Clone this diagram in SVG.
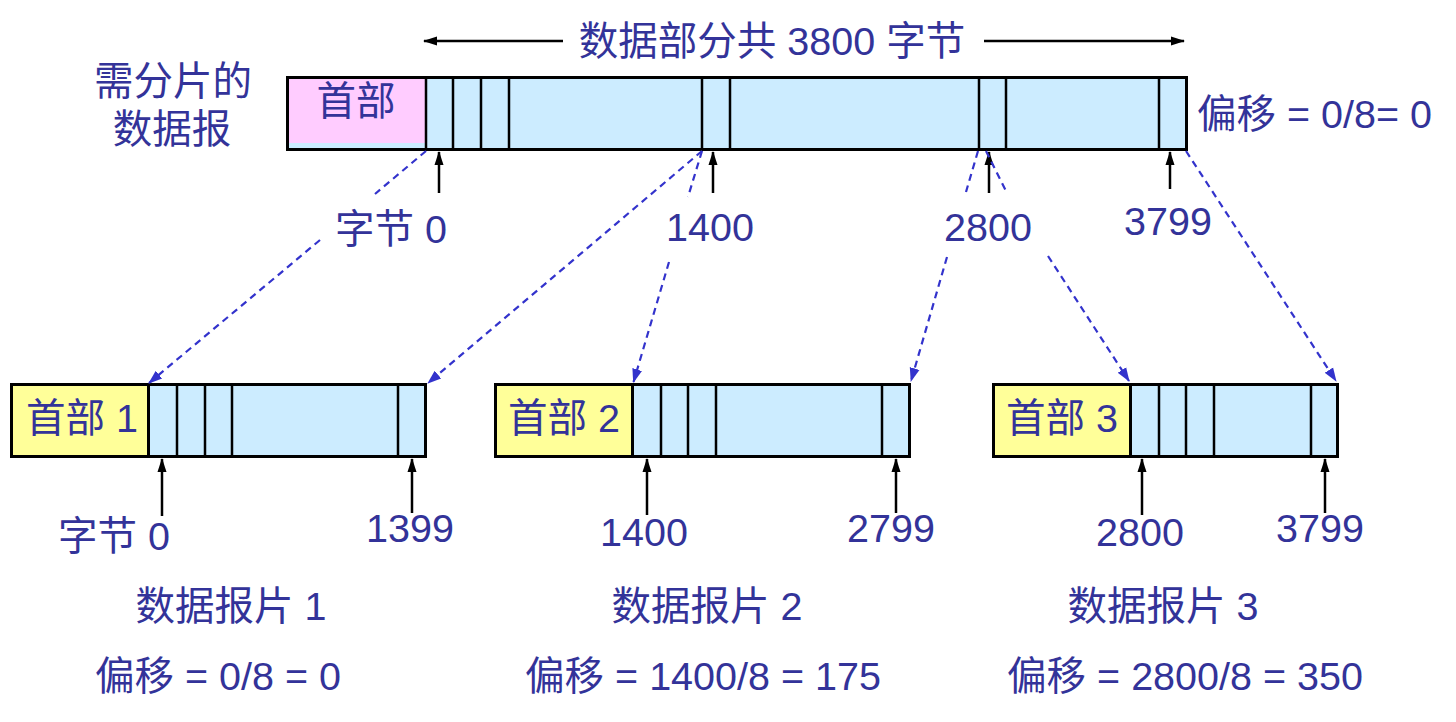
<svg xmlns="http://www.w3.org/2000/svg" width="1456" height="722" viewBox="0 0 1456 722">
<defs>
<style>
.t{font-family:"Liberation Sans","Noto Sans CJK SC",sans-serif;fill:#333399;font-size:39.5px}
.m{text-anchor:middle}
.box{fill:#CCECFF;stroke:#000;stroke-width:3}
.hdr{fill:#FFFF99;stroke:#000;stroke-width:3}
.div{stroke:#000;stroke-width:2.5;fill:none}
.up{stroke:#000;stroke-width:2.5;fill:none;marker-end:url(#ak)}
.dash{stroke:#3333CC;stroke-width:2.2;stroke-dasharray:7 5;fill:none;marker-end:url(#ab)}
</style>
<marker id="ak" markerUnits="userSpaceOnUse" markerWidth="14" markerHeight="14" viewBox="0 0 14 14" refX="13" refY="7" orient="auto">
<path d="M0,2.5 L14,7 L0,11.5 Z" fill="#000"/>
</marker>
<marker id="ab" markerUnits="userSpaceOnUse" markerWidth="14" markerHeight="14" viewBox="0 0 14 14" refX="13" refY="7" orient="auto">
<path d="M0,2 L14,7 L0,12 Z" fill="#3333CC"/>
</marker>
</defs>
<rect width="1456" height="722" fill="#fff"/>

<g id="top-datagram">
<rect class="box" x="287.5" y="77.5" width="899" height="72"/>
<rect x="289" y="79" width="136" height="64" fill="#FFCCFF"/>
<path class="div" d="M426,77V150M453,77V150M481,77V150M509,77V150M702,77V150M730,77V150M979,77V150M1006,77V150M1159,77V150"/>
<text class="t m" x="356" y="115">首部</text>
</g>

<g id="label-left">
<text class="t m" x="173" y="95">需分片的</text>
<text class="t m" x="172" y="143">数据报</text>
</g>

<g id="label-total">
<text class="t m" x="772" y="55">数据部分共 3800 字节</text>
</g>

<g id="label-offset-top">
<text class="t" x="1197" y="128">偏移 = 0/8= 0</text>
</g>

<g id="fragment1">
<rect class="box" x="11.5" y="384.5" width="414" height="72"/>
<rect class="hdr" x="11.5" y="384.5" width="137" height="72"/>
<path class="div" d="M177,384V457M205,384V457M232,384V457M398,384V457"/>
<text class="t m" x="82" y="432">首部 1</text>
</g>

<g id="fragment2">
<rect class="box" x="495.5" y="384.5" width="414" height="72"/>
<rect class="hdr" x="495.5" y="384.5" width="137" height="72"/>
<path class="div" d="M661,384V457M688,384V457M716,384V457M882,384V457"/>
<text class="t m" x="564" y="432">首部 2</text>
</g>

<g id="fragment3">
<rect class="box" x="993.5" y="384.5" width="344" height="72"/>
<rect class="hdr" x="993.5" y="384.5" width="137" height="72"/>
<path class="div" d="M1159,384V457M1186,384V457M1214,384V457M1311,384V457"/>
<text class="t m" x="1062" y="432">首部 3</text>
</g>

<g id="labels">
<text class="t m" x="391" y="243">字节 0</text>
<text class="t m" x="710" y="241">1400</text>
<text class="t m" x="988" y="241">2800</text>
<text class="t m" x="1168" y="235">3799</text>
<text class="t m" x="114" y="550">字节 0</text>
<text class="t m" x="410" y="542">1399</text>
<text class="t m" x="644" y="546">1400</text>
<text class="t m" x="891" y="542">2799</text>
<text class="t m" x="1140" y="546">2800</text>
<text class="t m" x="1320" y="542">3799</text>
<text class="t m" x="231" y="620">数据报片 1</text>
<text class="t m" x="707" y="620">数据报片 2</text>
<text class="t m" x="1163" y="620">数据报片 3</text>
<text class="t m" x="218" y="690">偏移 = 0/8 = 0</text>
<text class="t m" x="703" y="690">偏移 = 1400/8 = 175</text>
<text class="t m" x="1185" y="690">偏移 = 2800/8 = 350</text>
</g>

<g id="connectors">
<path class="up" d="M563,41H424"/>
<path class="up" d="M984,41H1184"/>
<path class="up" d="M439,193V152"/>
<path class="up" d="M713,193V152"/>
<path class="up" d="M989,193V152"/>
<path class="up" d="M1170,189V152"/>
<path class="up" d="M162,516V459"/>
<path class="up" d="M412,513V459"/>
<path class="up" d="M647,515V459"/>
<path class="up" d="M896,513V459"/>
<path class="up" d="M1142,515V459"/>
<path class="up" d="M1325,513V459"/>
<path class="dash" d="M426,151L375,194M320,240L149,383"/>
<path class="dash" d="M702,151L428,383"/>
<path class="dash" d="M702,151L688,197M669,262L633.5,382"/>
<path class="dash" d="M978,151L966,192M947,257L911,381"/>
<path class="dash" d="M986,151L1006,191M1048,256L1129,381"/>
<path class="dash" d="M1186,151L1336,381"/>
</g>
</svg>
